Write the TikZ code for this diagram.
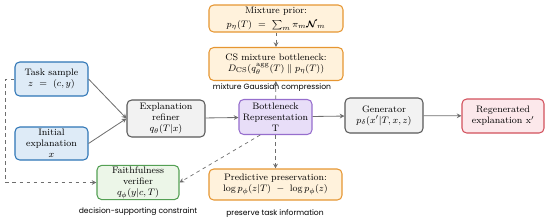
\documentclass[tikz,border=0pt]{standalone}
\usepackage{amsmath}
\usepackage{amssymb}
\usepackage{fontspec}
\newfontfamily\labelfont{Poppins}
\usetikzlibrary{arrows.meta, positioning, calc}
\definecolor{myblue}{RGB}{46,117,182}
\definecolor{mygray}{RGB}{89,89,89}
\definecolor{mypurple}{RGB}{150,110,205}
\definecolor{myamber}{RGB}{230,150,50}
\definecolor{mygreen}{RGB}{84,160,84}
\definecolor{myred}{RGB}{210,80,92}
\definecolor{mylink}{RGB}{110,110,110}
\definecolor{hdrblue}{RGB}{222,235,247}
\definecolor{hdrgray}{RGB}{242,242,242}
\definecolor{hdrpurple}{RGB}{232,222,248}
\definecolor{hdramber}{RGB}{255,242,220}
\definecolor{hdrgreen}{RGB}{236,246,232}
\definecolor{hdrred}{RGB}{252,232,235}
\tikzset{
  box/.style={rectangle, align=center, font=\footnotesize,
    rounded corners=4pt, line width=0.9pt, inner sep=1pt},
  bluebox/.style={box, draw=myblue, fill=hdrblue},
  graybox/.style={box, draw=mygray, fill=hdrgray},
  purplebox/.style={box, draw=mypurple, fill=hdrpurple},
  amberbox/.style={box, draw=myamber, fill=hdramber},
  greenbox/.style={box, draw=mygreen, fill=hdrgreen},
  redbox/.style={box, draw=myred, fill=hdrred},
  arrow/.style={-{Stealth[length=4pt,width=4pt]}, line width=0.7pt, color=mylink},
  dasharrow/.style={-{Stealth[length=4pt,width=4pt]}, dashed, line width=0.6pt, color=mylink},
  tag/.style={font=\labelfont\fontsize{6.5}{8}\selectfont}
}
\begin{document}
\begin{tikzpicture}[x=0.03cm, y=-0.03cm]
  \useasboundingbox (0,0) rectangle (550,221);
  % Inputs
  \node[bluebox, minimum width=2.19cm, minimum height=1.02cm] (task) at (51.5,79)
    {Task sample\\ $z\ =\ (c,y)$};
  \node[bluebox, minimum width=2.19cm, minimum height=0.99cm] (init) at (51.5,143.5)
    {Initial\\ explanation\\ $x$};
  % Main pipeline
  \node[graybox, minimum width=2.34cm, minimum height=1.11cm] (refiner) at (166,118.5)
    {Explanation\\ refiner\\ $q_\theta(T|x)$};
  \node[purplebox, minimum width=2.19cm, minimum height=1.05cm] (bottleneck) at (275.5,117)
    {Bottleneck\\ Representation\\ T};
  \node[graybox, minimum width=2.34cm, minimum height=1.05cm] (generator) at (384,115.5)
    {Generator\\ $p_\delta(x'|T,x,z)$};
  \node[redbox, minimum width=2.46cm, minimum height=1.02cm] (regen) at (503,116)
    {Regenerated\\ explanation $\mathrm{x}'$};
  % Compression branch
  \node[amberbox, minimum width=4.02cm, minimum height=0.81cm] (prior) at (276,18.5)
    {Mixture prior:\\[2.5pt] $p_\eta(T)\ =\ \textstyle\sum_m \pi_m \boldsymbol{\mathcal{N}}_m$};
  \node[amberbox, minimum width=4.02cm, minimum height=0.99cm] (csbox) at (276,64)
    {CS mixture bottleneck:\\ $D_{\mathrm{CS}}(q_\theta^{\mathrm{agg}}(T)\;\|\;p_\eta(T))$};
  \node[tag] (comptag) at (272,88) {mixture Gaussian compression};
  % Preservation branch
  \node[amberbox, minimum width=3.99cm, minimum height=0.93cm] (predict) at (275.5,184.5)
    {Predictive preservation:\\ $\log p_\phi(z|T)\ -\ \log p_\phi(z)$};
  \node[tag] (predtag) at (275,214) {preserve task information};
  \node[greenbox, minimum width=2.46cm, minimum height=0.93cm] (verifier) at (138,182.5)
    {Faithfulness\\ verifier\\ $q_\phi(y|c,T)$};
  \node[tag] (vertag) at (138,212) {decision-supporting constraint};
  % Solid flow
  \draw[arrow] (task.east) -- (refiner.west);
  \draw[arrow] (init.east) -- (refiner.west);
  \draw[arrow] (refiner) -- (bottleneck);
  \draw[arrow] (bottleneck) -- (generator);
  \draw[arrow] (generator) -- (regen);
  % Dashed links
  \draw[dasharrow] (prior) -- (csbox);
  \draw[dasharrow] (bottleneck) -- (csbox);
  \draw[dasharrow] (bottleneck) -- (predict);
  \draw[dasharrow] ([xshift=-0.46cm]bottleneck.south) -- (verifier.east);
  \draw[dasharrow] (task.west) -- ([xshift=-0.27cm]task.west) |- (verifier.west);
\end{tikzpicture}
\end{document}
